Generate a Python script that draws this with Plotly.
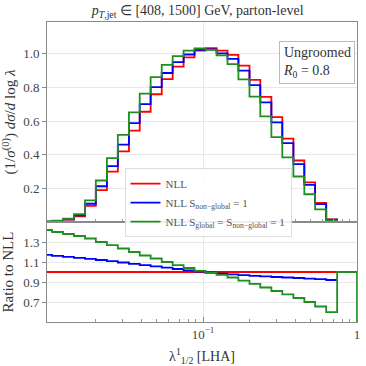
import plotly.graph_objects as go
from plotly.subplots import make_subplots

# bin edges in lambda (log-spaced histogram)
bin_edges = [0.00889, 0.01047, 0.01233, 0.01452, 0.01714, 0.02014, 0.02377, 0.02799,
             0.03304, 0.03882, 0.04571, 0.05395, 0.06353, 0.07482, 0.08810, 0.1038,
             0.1225, 0.1442, 0.1698, 0.2004, 0.2355, 0.2780, 0.3273, 0.3864,
             0.4550, 0.5346, 0.6310, 0.7430, 1.0]

# NLL distribution, (1/sigma) dsigma/dlog lambda
nll = [0.002, 0.006, 0.014, 0.034, 0.096, 0.19, 0.30, 0.42, 0.544, 0.656, 0.76, 0.85,
       0.924, 0.98, 1.02, 1.034, 1.02, 0.994, 0.93, 0.846, 0.744, 0.624, 0.496, 0.366,
       0.236, 0.114, 0.016, 0.0]

# ratios to NLL
ratio_nonglobal = [1.172, 1.162, 1.152, 1.142, 1.131, 1.12, 1.108, 1.095, 1.082, 1.069,
                   1.056, 1.043, 1.03, 1.017, 1.004, 0.993, 0.984, 0.976, 0.969, 0.962,
                   0.956, 0.95, 0.945, 0.94, 0.934, 0.928, 0.92, None]
ratio_global = [1.42, 1.40, 1.38, 1.36, 1.335, 1.30, 1.268, 1.235, 1.20, 1.165, 1.135,
                1.10, 1.068, 1.04, 1.012, 0.99, 0.972, 0.945, 0.913, 0.882, 0.845, 0.81,
                0.776, 0.74, 0.70, 0.655, 0.598, 1.0]
ratio_nll = [1.0 if v > 0 else None for v in nll]

nll_nonglobal = [v * r if r is not None else 0.0 for v, r in zip(nll, ratio_nonglobal)]
nll_global = [v * r for v, r in zip(nll, ratio_global)]

series = [
    ("NLL", "#ff0000", nll, ratio_nll, False),
    ("NLL S<sub>non−global</sub> = 1", "#0000ff", nll_nonglobal, ratio_nonglobal, False),
    ("NLL S<sub>global</sub> = S<sub>non−global</sub> = 1", "#1f8f1f", nll_global, ratio_global, True),
]

FONT = "Liberation Serif"


def step_path(values, close=True):
    """Histogram outline: x/y arrays for an hv-shaped line."""
    xs, ys = [], []
    valid = [i for i, v in enumerate(values) if v is not None]
    first, last = valid[0], valid[-1]
    if close:
        xs.append(bin_edges[first])
        ys.append(0.0)
    for i in range(first, last + 1):
        xs.append(bin_edges[i])
        ys.append(values[i])
    xs.append(bin_edges[last + 1])
    ys.append(values[last])
    if close:
        xs.append(bin_edges[last + 1])
        ys.append(0.0)
    return xs, ys


fig = make_subplots(rows=2, cols=1, shared_xaxes=True, row_heights=[2 / 3, 1 / 3],
                    vertical_spacing=0)

for name, color, vals, ratio, close_ratio in series:
    x, y = step_path(vals)
    fig.add_trace(go.Scatter(x=x, y=y, mode="lines", name=name, line_shape="hv",
                             line=dict(color=color, width=1.8)), row=1, col=1)
    xr, yr = step_path(ratio, close=close_ratio)
    fig.add_trace(go.Scatter(x=xr, y=yr, mode="lines", showlegend=False, line_shape="hv",
                             line=dict(color=color, width=1.8)), row=2, col=1)

axis_common = dict(showline=True, linecolor="#8a8a8a", linewidth=1, mirror=True,
                   gridcolor="#e8e8e8", gridwidth=1, zeroline=False, automargin=False,
                   tickfont=dict(family=FONT, size=13, color="#444"))

x_common = dict(type="log", range=[-2.013, 0], tickvals=[0.1, 1],
                ticks="inside", ticklen=5, tickcolor="#8a8a8a",
                minor=dict(tickvals=[0.02, 0.03, 0.04, 0.05, 0.06, 0.07, 0.08, 0.09,
                                     0.2, 0.3, 0.4, 0.5, 0.6, 0.7, 0.8, 0.9],
                           ticks="inside", ticklen=3, tickcolor="#9a9a9a", showgrid=False),
                **axis_common)

fig.update_xaxes(showticklabels=False, **x_common, row=1, col=1)
fig.update_xaxes(ticktext=["10<sup>−1</sup>", "1"], showticklabels=True,
                 title=dict(text="λ<sup>1</sup><sub>1/2</sub> [LHA]",
                            font=dict(family=FONT, size=14, color="#333")),
                 **x_common, row=2, col=1)

fig.update_yaxes(range=[0, 1.19], tickvals=[0.2, 0.4, 0.6, 0.8, 1.0],
                 ticktext=["0.2", "0.4", "0.6", "0.8", "1.0"],
                 ticks="outside", ticklen=4, tickcolor="#8a8a8a",
                 title=dict(text="(1/<i>σ</i><sup>(0)</sup>) <i>dσ</i>/<i>d</i> log <i>λ</i>",
                            font=dict(family=FONT, size=15, color="#333")),
                 **axis_common, row=1, col=1)
fig.update_yaxes(range=[0.5, 1.5], tickvals=[0.7, 0.9, 1.1, 1.3],
                 ticktext=["0.7", "0.9", "1.1", "1.3"],
                 ticks="outside", ticklen=4, tickcolor="#8a8a8a",
                 title=dict(text="Ratio to NLL",
                            font=dict(family=FONT, size=15, color="#333")),
                 **axis_common, row=2, col=1)

fig.add_annotation(xref="paper", yref="paper", x=0.993, y=0.935, xanchor="right",
                   yanchor="top", align="left", showarrow=False,
                   text="Ungroomed<br><i>R</i><sub>0</sub> = 0.8",
                   font=dict(family=FONT, size=14, color="#333"),
                   bgcolor="white", bordercolor="#bbbbbb", borderwidth=1, borderpad=3)

fig.update_layout(
    width=366,
    height=366,
    margin=dict(l=47, r=9, t=22, b=44, autoexpand=False),
    paper_bgcolor="white",
    plot_bgcolor="white",
    title=dict(text="<i>p</i><sub><i>T</i>,jet</sub> ∈ [408, 1500] GeV, parton-level",
               x=0.54, xanchor="center", y=0.972, yanchor="middle",
               font=dict(family=FONT, size=14, color="#333")),
    legend=dict(x=0.25, y=0.513, xanchor="left", yanchor="top",
                bgcolor="rgba(255,255,255,0.85)", bordercolor="#dddddd", borderwidth=1,
                font=dict(family=FONT, size=11, color="#555"),
                itemwidth=30, tracegroupgap=0),
    showlegend=True,
)

# the page has the default 8px body margin; drop it so the figure sits at (0, 0)
fig.write_html("out.html", config={"displayModeBar": False},
               post_script="document.body.style.margin = '0px';")
